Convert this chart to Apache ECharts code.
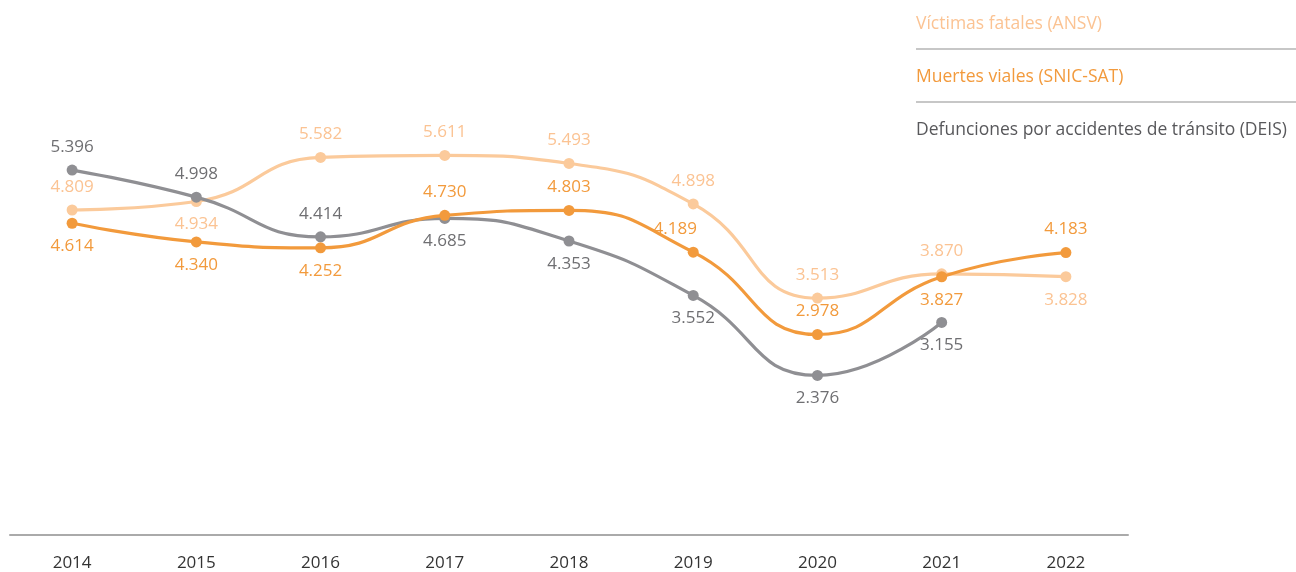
<!DOCTYPE html>
<html>
<head>
<meta charset="utf-8">
<script src="https://cdn.jsdelivr.net/npm/echarts@6/dist/echarts.min.js"></script>
<style>
  html, body { margin: 0; padding: 0; background: #fff; }
  #chart { width: 1296px; height: 572px; }
</style>
</head>
<body>
<div id="chart"></div>
<script>
// años
const years = ['2014', '2015', '2016', '2017', '2018', '2019', '2020', '2021', '2022'];
// series
const victimasAnsv = [4809, 4934, 5582, 5611, 5493, 4898, 3513, 3870, 3828];
const muertesSnic = [4614, 4340, 4252, 4730, 4803, 4189, 2978, 3827, 4183];
const defuncionesDeis = [5396, 4998, 4414, 4685, 4353, 3552, 2376, 3155, null];
// posición de etiquetas por punto
const victimasPos = ['top', 'bottom', 'top', 'top', 'top', 'top', 'top', 'top', 'bottom'];
const muertesPos = ['bottom', 'bottom', 'bottom', 'top', 'top', 'topLeft', 'top', 'bottom', 'top'];
const deisPos = ['top', 'top', 'top', 'bottom', 'bottom', 'bottom', 'bottom', 'bottom', 'bottom'];

const names = ['Víctimas fatales (ANSV)', 'Muertes viales (SNIC-SAT)', 'Defunciones por accidentes de tránsito (DEIS)'];
const colors = ['#fbca9b', '#f29a3c', '#8f8f93'];
const labelColors = ['#fbc393', '#f29a3c', '#6f6f72'];

const fmt = v => String(v).replace(/\B(?=(\d{3})+(?!\d))/g, '.');

function buildData(values, pos) {
  return values.map((v, i) => {
    const p = pos[i];
    if (p === 'topLeft') {
      return { value: v, label: { position: 'top', offset: [-18, 0] } };
    }
    return { value: v, label: { position: p } };
  });
}

function makeSeries(idx, values, pos, z) {
  return {
    name: names[idx],
    type: 'line',
    smooth: 0.5,
    z: z,
    data: buildData(values, pos),
    symbol: 'circle',
    symbolSize: 11,
    lineStyle: { width: 3.2, color: colors[idx] },
    itemStyle: { color: colors[idx] },
    label: {
      show: true,
      distance: 9,
      fontSize: 17,
      fontFamily: 'Open Sans',
      color: labelColors[idx],
      formatter: p => fmt(p.value)
    },
    emphasis: { disabled: true }
  };
}

const chart = echarts.init(document.getElementById('chart'));
chart.setOption({
  animation: false,
  color: colors,
  legend: {
    orient: 'vertical',
    left: 906,
    top: 10,
    align: 'left',
    icon: 'none',
    itemWidth: 0,
    itemGap: 35,
    selectedMode: false,
    textStyle: { fontSize: 17.5, fontFamily: 'Open Sans' },
    data: [
      { name: names[0], textStyle: { color: labelColors[0] } },
      { name: names[1], textStyle: { color: labelColors[1] } },
      { name: names[2], textStyle: { color: '#58585b' } }
    ]
  },
  graphic: [
    { type: 'line', shape: { x1: 916, y1: 49, x2: 1296, y2: 49 }, style: { stroke: '#b5b5b5', lineWidth: 1.5 } },
    { type: 'line', shape: { x1: 916, y1: 102, x2: 1296, y2: 102 }, style: { stroke: '#b5b5b5', lineWidth: 1.5 } }
  ],
  grid: { left: 10, right: 168, top: 61, bottom: 33 },
  xAxis: {
    type: 'category',
    data: years,
    offset: -2,
    axisLine: { onZero: false, lineStyle: { color: '#aaaaaa', width: 2 } },
    axisTick: { show: false },
    axisLabel: { color: '#333', fontSize: 17, fontFamily: 'Open Sans', margin: 20 }
  },
  yAxis: {
    type: 'value',
    min: 0,
    max: 7000,
    show: false,
    splitLine: { show: false }
  },
  series: [
    makeSeries(0, victimasAnsv, victimasPos, 2),
    makeSeries(2, defuncionesDeis, deisPos, 3),
    makeSeries(1, muertesSnic, muertesPos, 4)
  ]
});
</script>
</body>
</html>
